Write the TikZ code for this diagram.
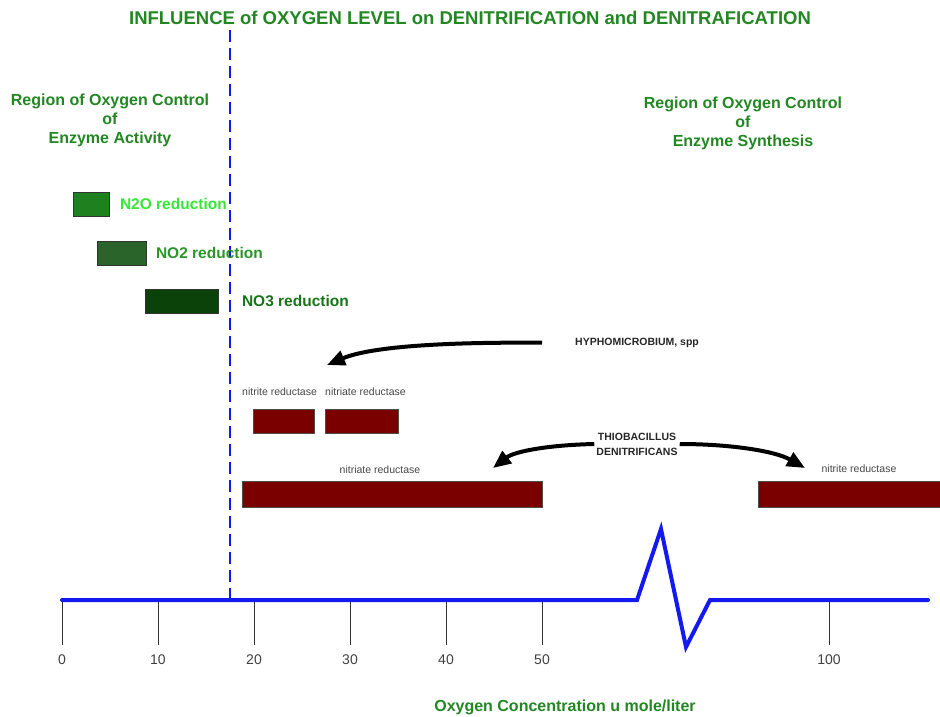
\documentclass[tikz,border=0pt]{standalone}
\usepackage{fontspec}
\setmainfont{Liberation Sans}
\usetikzlibrary{positioning, arrows.meta}
\definecolor{txtGreen}{RGB}{34,135,34}
\definecolor{lblNtwoO}{RGB}{55,230,55}
\definecolor{lblNOtwo}{RGB}{40,150,40}
\definecolor{lblNOthree}{RGB}{25,115,25}
\definecolor{barNtwoO}{RGB}{30,128,30}
\definecolor{barNOtwo}{RGB}{42,100,42}
\definecolor{barNOthree}{RGB}{10,66,10}
\definecolor{enzRed}{RGB}{122,0,0}
\definecolor{axisBlue}{RGB}{20,25,240}
\colorlet{smallGray}{black!72}
\colorlet{speciesInk}{black!85}

\begin{document}
\begin{tikzpicture}[
  x=1pt, y=-1pt,
  >={Triangle[length=18pt, width=15pt]},
  heading/.style={font=\fontsize{18.5}{21}\selectfont\bfseries, text=txtGreen},
  region/.style={font=\fontsize{16}{19}\selectfont\bfseries, text=txtGreen, align=center},
  redlbl/.style={font=\fontsize{15.5}{18}\selectfont\bfseries, anchor=west, inner sep=0pt},
  gbar/.style={draw=black!80, line width=0.8pt, anchor=north west, inner sep=0pt,
               minimum height=24pt},
  ebar/.style={draw=black!70, line width=0.6pt, fill=enzRed, anchor=north west,
               inner sep=0pt},
  enzlbl/.style={font=\fontsize{10.5}{12}\selectfont, text=smallGray},
  species/.style={font=\fontsize{10.5}{15}\selectfont\bfseries, text=speciesInk, align=center},
  bigarrow/.style={->, line width=4pt, draw=black},
  ticklbl/.style={font=\fontsize{14}{16}\selectfont, text=black!75},
]
\useasboundingbox (0,0) rectangle (940,717);

% ── titles ───────────────────────────────────────────────────────────────────
\node[heading] (title) at (470,18)
  {INFLUENCE of OXYGEN LEVEL on DENITRIFICATION and DENITRAFICATION};
\node[region] (regAct) at (110,120) {Region of Oxygen Control\\of\\Enzyme Activity};
\node[region] (regSyn) at (743,123) {Region of Oxygen Control\\of\\Enzyme Synthesis};

% boundary between the two regions
\draw[axisBlue, line width=1.6pt, dash pattern=on 12pt off 6pt] (230,30) -- (230,600);

% ── reduction steps ──────────────────────────────────────────────────────────
\node[gbar, fill=barNtwoO, minimum width=36pt] (ntwoo) at (73,192) {};
\node[gbar, fill=barNOtwo, minimum width=49pt] (notwo) at (97,241) {};
\node[gbar, fill=barNOthree, minimum width=73pt] (nothree) at (145,289) {};
\node[redlbl, text=lblNtwoO, right=10pt of ntwoo] (ntwooLbl) {N2O reduction};
\node[redlbl, text=lblNOtwo, right=9pt of notwo] (notwoLbl) {NO2 reduction};
\node[redlbl, text=lblNOthree, right=23pt of nothree] (nothreeLbl) {NO3 reduction};

% ── enzymes ──────────────────────────────────────────────────────────────────
\node[ebar, minimum width=61pt, minimum height=24pt] (nirA) at (253,409) {};
\node[ebar, minimum width=73pt, minimum height=24pt] (narA) at (325,409) {};
\node[ebar, minimum width=300pt, minimum height=26pt] (narB) at (242,481) {};
\node[ebar, minimum width=184pt, minimum height=26pt] (nirB) at (758,481) {};
\node[enzlbl, anchor=west, inner sep=0pt] (nirAlbl) at (242,392) {nitrite reductase};
\node[enzlbl, anchor=west, inner sep=0pt] (narAlbl) at (325,392) {nitriate reductase};
\node[enzlbl] (narBlbl) at (380,470) {nitriate reductase};
\node[enzlbl] (nirBlbl) at (859,469) {nitrite reductase};

% ── organisms ────────────────────────────────────────────────────────────────
\node[species, anchor=west, inner sep=0pt] (hypho) at (575,343) {HYPHOMICROBIUM, spp};
\node[species, inner sep=2pt] (thio) at (637,444) {THIOBACILLUS\\DENITRIFICANS};
\coordinate (hyphoTip) at (327,365);
\coordinate (thioTipL) at (493,468);
\coordinate (thioTipR) at (805,468);
\draw[bigarrow, shorten <=33pt] (hypho.west) .. controls (450,342) and (372,346) .. (hyphoTip);
\draw[bigarrow] (thio.west) .. controls (550,445) and (515,451) .. (thioTipL);
\draw[bigarrow] (thio.east) .. controls (730,444) and (775,451) .. (thioTipR);

% ── axis ─────────────────────────────────────────────────────────────────────
\foreach \v/\x in {0/62, 10/158, 20/254, 30/350, 40/446, 50/542, 100/829}{
  \draw[black!80, line width=0.8pt] (\x,600) -- (\x,645);
  \node[ticklbl] (t\v) at (\x,660) {\v};
}
\draw[axisBlue, line width=4pt, line join=miter, line cap=round]
  (62,600) -- (637,600) -- (661,529) -- (686,647) -- (710,600) -- (928,600);
\node[font=\fontsize{16}{18}\selectfont\bfseries, text=txtGreen] (xlbl) at (565,707)
  {Oxygen Concentration u mole/liter};

\end{tikzpicture}
\end{document}
